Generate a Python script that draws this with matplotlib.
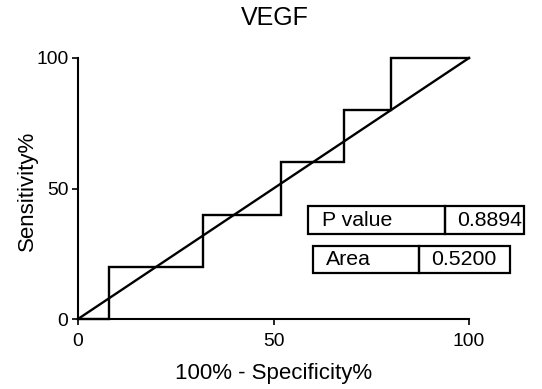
import matplotlib
matplotlib.use("Agg")
import matplotlib.pyplot as plt
from matplotlib.patches import Rectangle

plt.rcParams['font.family'] = ['Liberation Sans', 'DejaVu Sans']

# Data
fpr = [0, 8, 8, 32, 32, 52, 52, 68, 68, 80, 80, 100]
tpr = [0, 0, 20, 20, 40, 40, 60, 60, 80, 80, 100, 100]
diag_x = [0, 100]
diag_y = [0, 100]
xticks = [0, 50, 100]
yticks = [0, 50, 100]
title = "VEGF"
p_label, p_value = "P value", "0.8894"
a_label, a_value = "Area", "0.5200"

W, H = 542, 389
fig = plt.figure(figsize=(W/100, H/100), dpi=100)
ax = fig.add_axes([78/W, 1-319/H, (469-78)/W, (319-58)/H])
ax.plot(fpr, tpr, color='black', lw=1.7, clip_on=False, solid_joinstyle='miter')
ax.plot(diag_x, diag_y, color='black', lw=1.7, clip_on=False)
ax.set_xlim(0, 100)
ax.set_ylim(0, 100)
ax.set_xticks(xticks)
ax.set_yticks(yticks)
for s in ['top', 'right']:
    ax.spines[s].set_visible(False)
for s in ['left', 'bottom']:
    ax.spines[s].set_linewidth(1.5)
ax.tick_params(direction='out', length=4.5, width=1.2, labelsize=13.9)
ax.tick_params(axis='x', pad=5.5)
ax.tick_params(axis='y', pad=2.5)
fig.text(274/W, 1-374/H, "100% - Specificity%", ha='center', va='center', fontsize=16)
fig.text(27/W, 1-191/H, "Sensitivity%", ha='center', va='center', fontsize=16, rotation=90)
fig.text(275/W, 1-18/H, title, ha='center', va='center', fontsize=18)

def px(x, y):
    return x/W, 1-y/H

def box(x0, x1, xd, y0, y1, lab, val, lx, vx):
    for (a, b) in [(x0, xd), (xd, x1)]:
        r = Rectangle(px(a, y1), (b-a)/W, (y1-y0)/H, transform=fig.transFigure,
                      fill=False, edgecolor='black', lw=1.6)
        fig.add_artist(r)
    yc = (y0+y1)/2
    fig.text(*px(lx, yc), lab, ha='left', va='center', fontsize=15.3)
    fig.text(*px(vx, yc), val, ha='left', va='center', fontsize=15.3)

box(308, 524, 445, 206, 234, p_label, p_value, 322, 457)
box(313, 510, 419, 246, 273, a_label, a_value, 326, 431)

fig.savefig("out.png", dpi=100)
